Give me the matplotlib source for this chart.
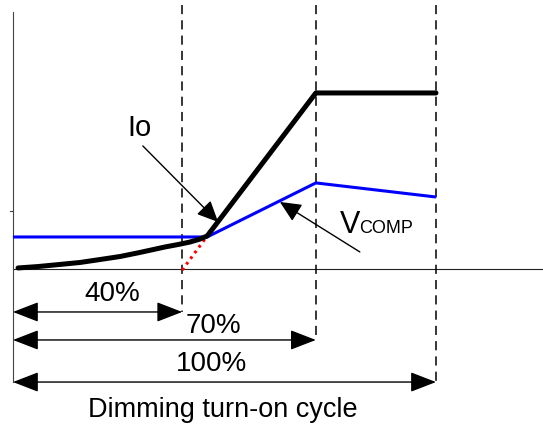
import numpy as np
import matplotlib.pyplot as plt

plt.rcParams['font.family'] = ['Liberation Sans', 'DejaVu Sans']

# Data (x = position along the dimming turn-on cycle, y = relative level)
cycle_pos = [40, 71.6, 100]
cycle_labels = ['40%', '70%', '100%']

io_x = [1.2, 5.9, 11.1, 15.8, 20.6, 25.3, 30.0, 35.9, 39.0, 41.8, 44.2, 45.9, 71.6, 100]
io_y = [0.006, 0.014, 0.026, 0.037, 0.054, 0.071, 0.094, 0.125, 0.139, 0.153, 0.170, 0.1875, 1.0, 1.0]

vcomp_x = [0, 45.9, 71.6, 100]
vcomp_y = [0.182, 0.182, 0.489, 0.409]

ext_x = [40, 45.9]
ext_y = [-0.006, 0.1875]

dim_y = [-0.244, -0.403, -0.642]

fig = plt.figure(figsize=(5.43, 4.25), dpi=100)
ax = fig.add_axes([0, 0, 1, 1])
ax.set_xlim(-3.07, 125.3)
ax.set_ylim(-0.886, 1.528)
ax.axis('off')

# axes of the sketch
ax.plot([0, 125.3], [0, 0], color='#222222', lw=0.8)
ax.plot([0, 0], [1.46, dim_y[-1]], color='#444444', lw=0.8)
ax.plot([-0.6, 0], [0.33, 0.33], color='#444444', lw=0.8)

# dashed markers
for p, yb in zip(cycle_pos, dim_y):
    ax.plot([p, p], [1.5, yb], color='black', lw=1.1, linestyle=(0, (6, 4)))

# curves
ax.plot(ext_x, ext_y, color='red', lw=2.2, linestyle=(0, (0.9, 1.4)))
ax.plot(vcomp_x, vcomp_y, color='#0000ff', lw=2.2, solid_capstyle='butt')
ax.plot(io_x, io_y, color='black', lw=3.6, solid_capstyle='round',
        solid_joinstyle='round')

# dimension arrows
for p, yb in zip(cycle_pos, dim_y):
    ax.annotate('', xy=(p, yb), xytext=(0, yb),
                arrowprops=dict(arrowstyle='<|-|>,head_length=0.8,head_width=0.31',
                                mutation_scale=20, color='black', lw=1.0,
                                shrinkA=0, shrinkB=0))
for lab, tx, ty in zip(cycle_labels, [23.4, 47.3, 47.0], [-0.142, -0.324, -0.54]):
    ax.text(tx, ty, lab, fontsize=20, ha='center', va='center')

ax.text(49.6, -0.80, 'Dimming turn-on cycle', fontsize=19.5, ha='center', va='center')

# labels with pointers
ax.text(30.0, 0.80, 'Io', fontsize=21, ha='center', va='center')
ax.annotate('', xy=(48.5, 0.267), xytext=(30.7, 0.699),
            arrowprops=dict(arrowstyle='-|>,head_length=0.65,head_width=0.3',
                            mutation_scale=20, color='black', lw=1.0,
                            shrinkA=0, shrinkB=0))
ax.annotate('', xy=(63.1, 0.381), xytext=(82.0, 0.097),
            arrowprops=dict(arrowstyle='-|>,head_length=0.65,head_width=0.3',
                            mutation_scale=20, color='black', lw=1.0,
                            shrinkA=0, shrinkB=0))
ax.text(77.3, 0.205, 'V', fontsize=22, ha='left', va='baseline')
ax.text(81.8, 0.205, 'COMP', fontsize=13, ha='left', va='baseline')

fig.savefig('out.png', dpi=100)
